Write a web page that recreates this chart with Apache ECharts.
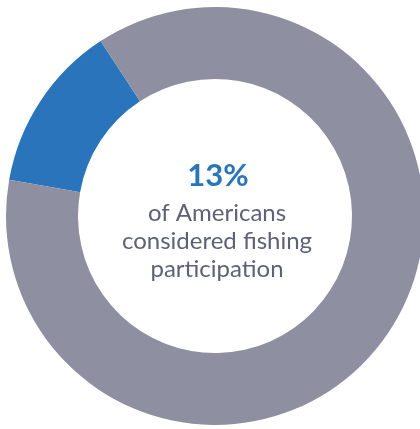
<!DOCTYPE html>
<html>
<head>
<meta charset="utf-8">
<script src="https://cdn.jsdelivr.net/npm/echarts@6/dist/echarts.min.js"></script>
<style>
  html, body { margin: 0; padding: 0; background: #fff; }
  #chart { width: 420px; height: 429px; }
</style>
</head>
<body>
<div id="chart"></div>
<script>
// share of Americans who considered fishing participation
var categories = ['Considered fishing', 'Other'];
var values = [13, 87];
var colors = ['#2a74bb', '#8e8fa1'];
var headline = '13%';
var captionLines = ['of Americans', 'considered fishing', 'participation'];

var chart = echarts.init(document.getElementById('chart'));

var data = categories.map(function (name, i) {
    return { name: name, value: values[i], itemStyle: { color: colors[i] } };
});

chart.setOption({
    animation: false,
    series: [{
        type: 'pie',
        center: [215, 216],
        radius: [137, 209],
        startAngle: 170,
        clockwise: true,
        label: { show: false },
        labelLine: { show: false },
        emphasis: { disabled: true },
        silent: true,
        data: data
    }],
    graphic: [{
        type: 'text',
        x: 218,
        y: 176,
        style: {
            text: headline,
            font: 'bold 31px Lato',
            fill: '#2a74bb',
            align: 'center',
            verticalAlign: 'middle'
        }
    }, {
        type: 'text',
        x: 217,
        y: 241,
        style: {
            text: captionLines.join('\n'),
            font: '24px Lato',
            lineHeight: 28,
            fill: '#5e6177',
            align: 'center',
            verticalAlign: 'middle'
        }
    }]
});
</script>
</body>
</html>
